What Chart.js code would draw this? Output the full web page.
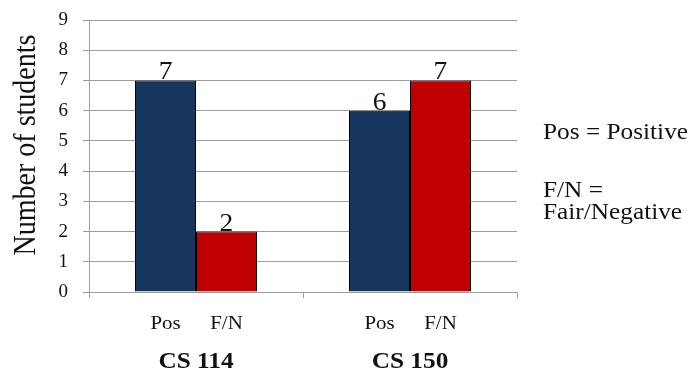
<!DOCTYPE html>
<html>
<head>
<meta charset="utf-8">
<script src="https://cdn.jsdelivr.net/npm/chart.js@4.4.1/dist/chart.umd.min.js"></script>
<style>
  html, body { margin: 0; padding: 0; background: #fff; }
  #wrap { width: 688px; height: 371px; }
</style>
</head>
<body>
<div id="wrap"><canvas id="surveyChart" width="688" height="371"></canvas></div>
<script>
const courses = ['CS 114', 'CS 150'];
const responses = ['Pos', 'F/N'];
const posCounts = [7, 6];
const fnCounts = [2, 7];
const yMin = 0;
const yMax = 9;
const yStep = 1;
const yTitle = 'Number of students';
const keyLines = ['Pos = Positive', 'F/N =', 'Fair/Negative'];

const SERIF = '"Liberation Serif", serif';
const GRID = '#9c9c9c';
const TEXT = '#111';
const STRETCH = 1.1;

// text drawn a little wider than tall, like the rest of the figure
function wideText(ctx, text, x, y, align) {
  ctx.save();
  ctx.translate(x, y);
  ctx.scale(STRETCH, 1);
  ctx.textAlign = align;
  ctx.textBaseline = 'alphabetic';
  ctx.fillText(text, 0, 0);
  ctx.restore();
}

const valueLabels = {
  id: 'valueLabels',
  afterDatasetsDraw(chart) {
    const ctx = chart.ctx;
    ctx.fillStyle = TEXT;
    ctx.font = '25px ' + SERIF;
    chart.data.datasets.forEach((ds, i) => {
      chart.getDatasetMeta(i).data.forEach((bar, j) => {
        wideText(ctx, String(ds.data[j]), bar.x, bar.y - 1, 'center');
      });
    });
  }
};

const extraText = {
  id: 'extraText',
  afterDraw(chart) {
    const ctx = chart.ctx;
    const x = chart.scales.x;
    ctx.fillStyle = TEXT;

    // Pos / F/N under each bar
    ctx.font = '19px ' + SERIF;
    chart.data.datasets.forEach((ds, i) => {
      chart.getDatasetMeta(i).data.forEach(bar => {
        wideText(ctx, responses[i], bar.x, 329, 'center');
      });
    });

    // course names
    ctx.font = 'bold 23px ' + SERIF;
    courses.forEach((c, i) => {
      wideText(ctx, c, x.getPixelForValue(i), 368, 'center');
    });

    // y axis title
    ctx.save();
    ctx.font = '28px ' + SERIF;
    ctx.translate(35, 145);
    ctx.rotate(-Math.PI / 2);
    ctx.scale(1, STRETCH);
    ctx.textAlign = 'center';
    ctx.textBaseline = 'alphabetic';
    ctx.fillText(yTitle, 0, 0);
    ctx.restore();

    // key on the right
    ctx.font = '23px ' + SERIF;
    wideText(ctx, keyLines[0], 543, 139, 'left');
    wideText(ctx, keyLines[1], 543, 197, 'left');
    wideText(ctx, keyLines[2], 543, 219, 'left');
  }
};

function drawChart() {
  new Chart(document.getElementById('surveyChart'), {
    type: 'bar',
    data: {
      labels: courses,
      datasets: [
        {
          label: responses[0],
          data: posCounts,
          backgroundColor: '#17365D',
          borderColor: '#000',
          borderWidth: 1
        },
        {
          label: responses[1],
          data: fnCounts,
          backgroundColor: '#C00000',
          borderColor: '#000',
          borderWidth: 1
        }
      ]
    },
    options: {
      responsive: false,
      animation: false,
      devicePixelRatio: 1,
      barPercentage: 1,
      categoryPercentage: 0.57,
      layout: { padding: { top: 20, right: 171, left: 0, bottom: 0 } },
      plugins: {
        legend: { display: false },
        tooltip: { enabled: false }
      },
      scales: {
        x: {
          offset: true,
          grid: {
            offset: true,
            drawOnChartArea: false,
            drawTicks: true,
            tickLength: 6,
            color: GRID
          },
          border: { color: GRID },
          ticks: { display: false },
          afterFit(scale) { scale.height = 79; }
        },
        y: {
          min: yMin,
          max: yMax,
          ticks: {
            stepSize: yStep,
            padding: 15,
            color: TEXT,
            font: { family: SERIF, size: 19 }
          },
          grid: { color: GRID, tickLength: 6 },
          border: { color: GRID },
          afterFit(scale) {
            scale.width = 89;
            // keep the plot top fixed; labels fit inside the padding
            scale.paddingTop = 0;
            scale.paddingBottom = 0;
          }
        }
      }
    },
    plugins: [valueLabels, extraText]
  });
}

// make sure the serif face is ready before the canvas uses it
Promise.all([
  document.fonts.load('20px "Liberation Serif"'),
  document.fonts.load('bold 20px "Liberation Serif"')
]).then(drawChart, drawChart);
</script>
</body>
</html>
